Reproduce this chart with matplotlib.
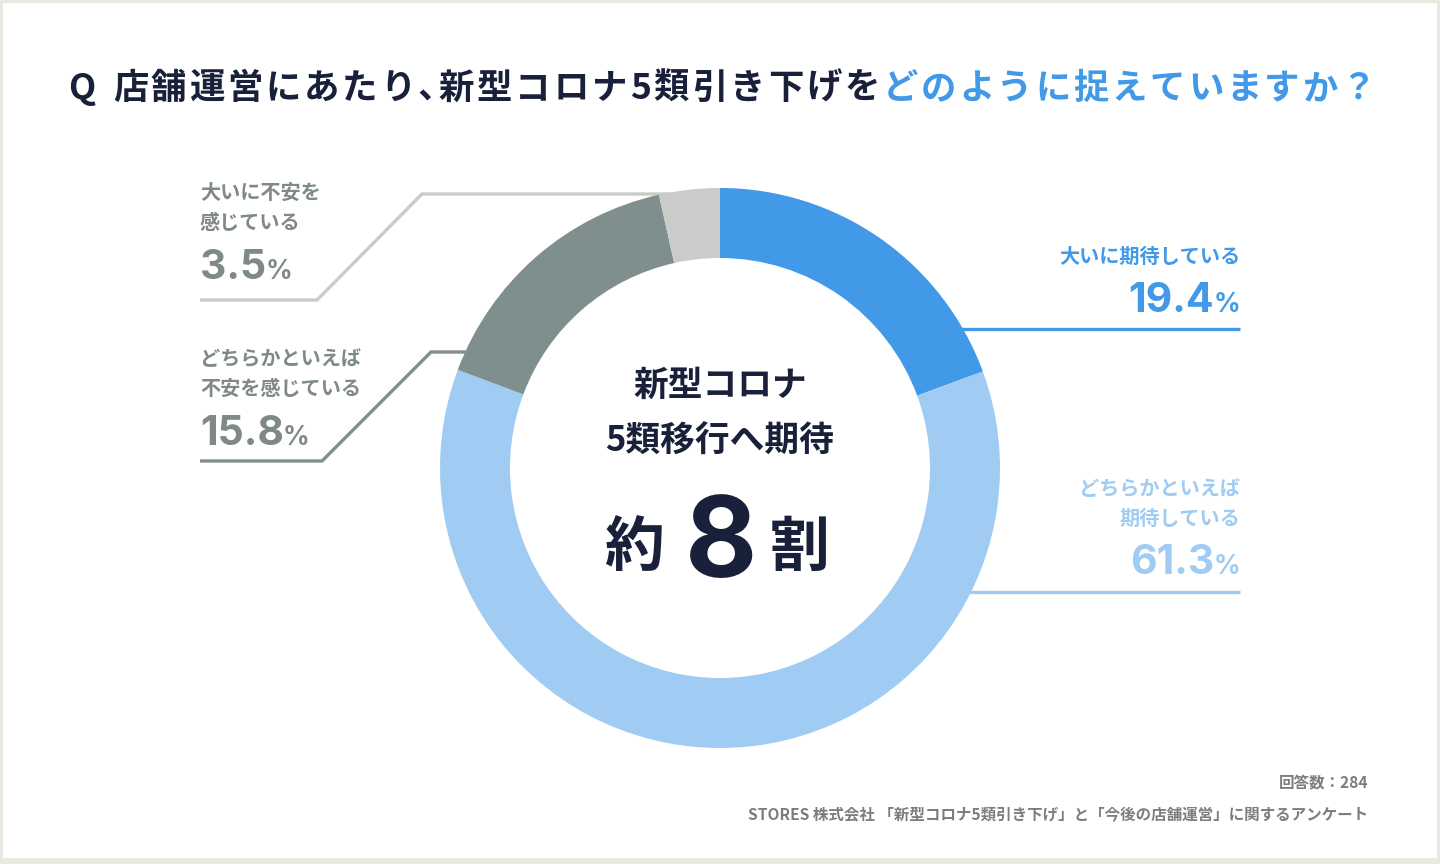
import matplotlib
matplotlib.use('Agg')
import matplotlib.pyplot as plt
from matplotlib.patches import Rectangle

plt.rcParams['font.family'] = ['Noto Sans CJK JP', 'DejaVu Sans']

# ---- data ----
categories = ['大いに期待している', 'どちらかといえば\n期待している',
              'どちらかといえば\n不安を感じている', '大いに不安を\n感じている']
values = [19.4, 61.3, 15.8, 3.5]
value_labels = ['19.4', '61.3', '15.8', '3.5']
colors = ['#4199e8', '#a0cbf3', '#7f8f8e', '#c9ccc8']
text_colors = ['#4199e8', '#a0cbf3', '#7f8a88', '#7f8a88']

title_dark = 'Q 店舗運営にあたり､新型コロナ5類引き下げを'
title_blue = 'どのように捉えていますか？'
center_line1 = '新型コロナ'
center_line2 = '5類移行へ期待'
center_big = ('約', '8', '割')
footer_n = '回答数：284'
footer_src = 'STORES 株式会社 「新型コロナ5類引き下げ」と「今後の店舗運営」に関するアンケート'

DARK = '#18203a'
NUMFONT = ['Inter', 'DejaVu Sans']

fig = plt.figure(figsize=(14.4, 8.64), dpi=100)
ax = fig.add_axes([0, 0, 1, 1])
ax.set_xlim(0, 1440)
ax.set_ylim(864, 0)
ax.axis('off')
renderer = fig.canvas.get_renderer()

# frame
ax.add_patch(Rectangle((0, 0), 1440, 864, facecolor='#e9e9e2', edgecolor='none', zorder=0))
ax.add_patch(Rectangle((3, 3), 1434, 855, facecolor='white', edgecolor='none', zorder=0.5))

# leader lines
lw = 2.4
ax.plot([930, 1240], [329, 329], color=colors[0], lw=lw, solid_capstyle='butt', zorder=1)
ax.plot([950, 1240], [592, 592], color=colors[1], lw=lw, solid_capstyle='butt', zorder=1)
ax.plot([200, 322, 431, 490], [461, 461, 352, 352], color=colors[2], lw=lw,
        solid_capstyle='butt', solid_joinstyle='miter', zorder=1)
ax.plot([200, 317, 422, 700], [300, 300, 194, 194], color=colors[3], lw=lw,
        solid_capstyle='butt', solid_joinstyle='miter', zorder=1)

# title, laid out character by character with letter spacing
TFS = 25.5
chars = [(c, DARK) for c in title_dark] + [(c, colors[0]) for c in title_blue]
items = []
for c, col in chars:
    if c == ' ':
        items.append((None, 12))
        continue
    t = ax.text(0, 99, c, color=col, fontsize=TFS, fontweight='bold', ha='left', va='baseline')
    w = t.get_window_extent(renderer).width
    items.append((t, w))
x0, x1 = 68, 1376
total = sum(w for _, w in items)
track = (x1 - x0 - total) / (len(items) - 1)
x = x0
for t, w in items:
    if t is not None:
        t.set_x(x)
    x += w + track

def num_pct(x, baseline, num, color, align):
    kw = dict(color=color, fontweight='bold', family=NUMFONT, va='baseline')
    if align == 'left':
        t = ax.text(x, baseline, num, fontsize=29.5, ha='left', **kw)
        bb = t.get_window_extent(renderer)
        ax.text(bb.x1 - 1, baseline, '%', fontsize=19, ha='left', **kw)
    else:
        p = ax.text(x, baseline, '%', fontsize=19, ha='right', **kw)
        bb = p.get_window_extent(renderer)
        ax.text(bb.x0 + 1, baseline, num, fontsize=29.5, ha='right', **kw)

LFS = 14.5
# right side labels
ax.text(1240, 263, categories[0], color=text_colors[0], fontsize=LFS, fontweight='bold',
        ha='right', va='baseline')
num_pct(1240, 312, value_labels[0], text_colors[0], 'right')

l1, l2 = categories[1].split('\n')
ax.text(1240, 495, l1, color=text_colors[1], fontsize=LFS, fontweight='bold', ha='right', va='baseline')
ax.text(1240, 525, l2, color=text_colors[1], fontsize=LFS, fontweight='bold', ha='right', va='baseline')
num_pct(1240, 574, value_labels[1], text_colors[1], 'right')

# left side labels
l1, l2 = categories[3].split('\n')
ax.text(200, 199, l1, color=text_colors[3], fontsize=LFS, fontweight='bold', ha='left', va='baseline')
ax.text(200, 229, l2, color=text_colors[3], fontsize=LFS, fontweight='bold', ha='left', va='baseline')
num_pct(200, 279, value_labels[3], text_colors[3], 'left')

l1, l2 = categories[2].split('\n')
ax.text(200, 365, l1, color=text_colors[2], fontsize=LFS, fontweight='bold', ha='left', va='baseline')
ax.text(200, 395, l2, color=text_colors[2], fontsize=LFS, fontweight='bold', ha='left', va='baseline')
num_pct(200, 445, value_labels[2], text_colors[2], 'left')

# center text
ax.text(720, 396, center_line1, color=DARK, fontsize=25, fontweight='bold', ha='center', va='baseline', zorder=5)
ax.text(720, 452, center_line2, color=DARK, fontsize=25, fontweight='bold', ha='center', va='baseline', zorder=5)
ax.text(634, 566, center_big[0], color=DARK, fontsize=43, fontweight='bold', ha='center', va='baseline', zorder=5)
ax.text(721, 577, center_big[1], color=DARK, fontsize=80, fontweight='bold', family=NUMFONT,
        ha='center', va='baseline', zorder=5)
ax.text(800, 566, center_big[2], color=DARK, fontsize=43, fontweight='bold', ha='center', va='baseline', zorder=5)

# footer
ax.text(1368, 787, footer_n, color='#7d7d7d', fontsize=11.2, fontweight='bold', ha='right', va='baseline')
ax.text(1368, 820, footer_src, color='#7d7d7d', fontsize=11.2, fontweight='bold', ha='right', va='baseline')

# donut
cx, cy, R = 720, 468, 280
ax_pie = fig.add_axes([(cx - R) / 1440, (864 - cy - R) / 864, 2 * R / 1440, 2 * R / 864])
ax_pie.pie(values, colors=colors, startangle=90, counterclock=False, radius=1,
           wedgeprops=dict(width=0.25, edgecolor='none', linewidth=0))
ax_pie.set_xlim(-1, 1)
ax_pie.set_ylim(-1, 1)
ax_pie.patch.set_visible(False)
ax_pie.axis('off')

fig.savefig('out.png', dpi=100)
